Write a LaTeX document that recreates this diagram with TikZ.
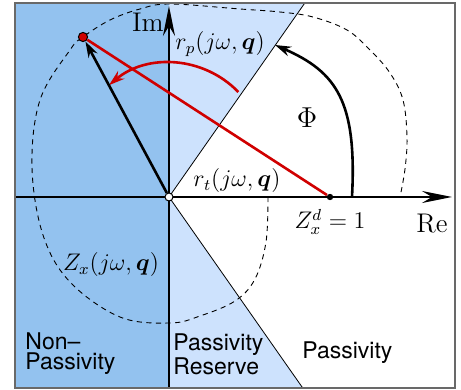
\documentclass[tikz,border=0pt]{standalone}
\usepackage{amsmath}
\usepackage{fontspec}
\setsansfont{TeX Gyre Heros}
\definecolor{nonpassblue}{RGB}{147,194,239}
\definecolor{reserveblue}{RGB}{205,226,253}
\definecolor{nyqred}{RGB}{208,0,0}
\definecolor{framegray}{RGB}{105,105,105}
\usepackage{tikz}
\usetikzlibrary{arrows.meta, positioning}

\begin{document}
\begin{tikzpicture}[
    x=0.5pt, y=0.5pt,
    edge/.style={draw=black, line width=0.4pt},
    axis/.style={-{Stealth[length=15pt, width=6pt, inset=5pt]}, line width=1pt},
    vec/.style={-{Stealth[length=8pt, width=5pt]}, line width=1.3pt},
    locus/.style={dash pattern=on 2.6pt off 2.2pt, line width=0.45pt},
    dot/.style={circle, inner sep=0pt, draw=black, line width=0.5pt},
    lbl/.style={font=\fontsize{12}{14}\selectfont, inner sep=0pt},
    axlbl/.style={font=\fontsize{13.5}{15}\selectfont, inner sep=0pt},
    zone/.style={font=\sffamily\fontsize{11.5}{10}\selectfont, align=left,
                 anchor=west, inner sep=0pt}
  ]
    \useasboundingbox (-169,-193) rectangle (292,197);

    % Regions
    \fill[nonpassblue] (-154,-191) rectangle (0,194);
    \fill[reserveblue] (0,0) -- (0,194) -- (55:237) -- cycle;
    \fill[reserveblue] (0,0) -- (0,-191) -- (-55:233) -- cycle;

    % Locus Z_x
    \draw[locus] plot[smooth, tension=0.6] coordinates {
      (99,0) (97,-45) (86,-82) (66,-104) (31,-119) (1,-126) (-49,-120)
      (-99,-85) (-126,-38) (-137,30) (-129,97) (-99,147) (-86,160)
      (-59,177) (-29,188) (1,193) (71,188) (111,185) (144,180) (178,167)
      (201,147) (221,124) (234,97) (238,60) (236,28) (231,0)};

    % Sector edges
    \draw[edge] (0,0) -- (55:237);
    \draw[edge] (0,0) -- (-55:233);

    % Axes
    \coordinate (imtip) at (0,191);
    \coordinate (retip) at (283,0);
    \draw[axis] (0,-191) -- (imtip);
    \draw[axis] (-154,0) -- (retip);

    % Points
    \node[dot, fill=white, minimum size=4pt] (O) at (0,0) {};
    \node[dot, fill=nyqred, minimum size=4.6pt] (P) at (-86,160) {};
    \node[circle, fill=black, inner sep=0pt, minimum size=3.2pt] (Zd) at (161,0) {};
    \coordinate (rotc) at (1,39);
    \coordinate (phis) at (183,0);
    \coordinate (phie) at (106,152);

    % Arrows
    \draw[vec, nyqred] ([shift={(44:95)}]rotc) arc[start angle=44, end angle=130, radius=95];
    \draw[vec] (phis) .. controls (188,95) and (168,125) .. (phie);
    \draw[nyqred, line width=1.3pt] (P) -- (Zd);
    \draw[vec] (O) -- (P);

    % Labels
    \node[axlbl] (imlbl) at (-21,175) {Im};
    \node[axlbl] (relbl) at (263,-27) {Re};
    \node[lbl] (rplbl) at (51,153) {$r_p(j\omega,\boldsymbol{q})$};
    \node[lbl] (rtlbl) at (68,16) {$r_t(j\omega,\boldsymbol{q})$};
    \node[axlbl] (philbl) at (138,79) {$\Phi$};
    \node[lbl, below=4pt of Zd] (zdlbl) {$Z_x^d = 1$};
    \node[lbl] (zxlbl) at (-58,-68) {$Z_x(j\omega,\boldsymbol{q})$};

    % Zones
    \node[zone] (nonpass) at (-144,-157) {Non–\\Passivity};
    \node[zone] (reserve) at (4,-157) {Passivity\\Reserve};
    \node[zone] (pass) at (133,-156) {Passivity};

    % Frame
    \draw[framegray, line width=0.7pt] (-154,-191) rectangle (286,194);
  \end{tikzpicture}
\end{document}
